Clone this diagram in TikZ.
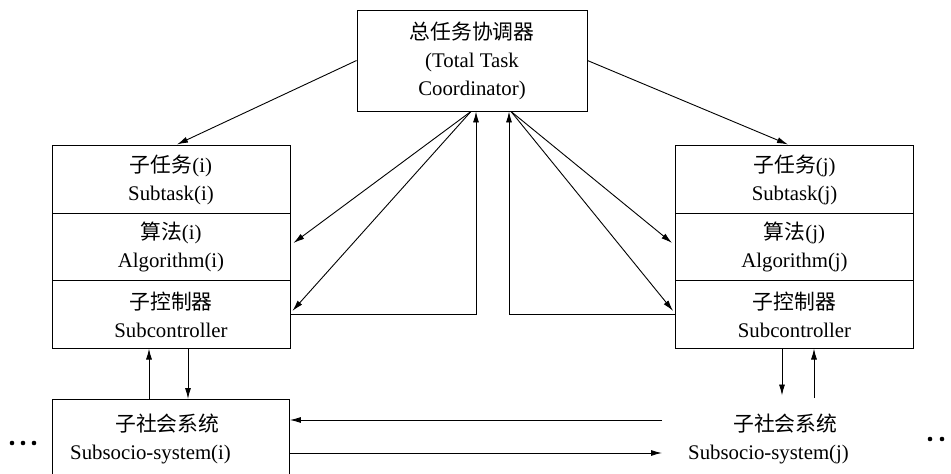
\documentclass[tikz,border=0pt]{standalone}
\usepackage{fontspec}
\setmainfont{Liberation Serif}
\newfontfamily\cjk{Noto Sans CJK SC}
\usetikzlibrary{arrows.meta,calc}
\begin{document}
\begin{tikzpicture}[x=1pt,y=-1pt,
  font=\fontsize{20.8}{28}\selectfont,
  box/.style={draw, line width=0.9pt, align=center, inner sep=0pt},
  cell/.style={box, minimum width=238pt, minimum height=67.4pt},
  link/.style={line width=0.9pt, -{Latex[length=11pt,width=6pt]}},
  plain/.style={line width=0.9pt},
  dotmark/.style={fill=black}]
\path[use as bounding box, clip] (0,0) rectangle (951,474);

% coordinator
\node[box, minimum width=230pt, minimum height=101pt] (tc) at (472,60.5)
  {{\cjk 总任务协调器}\\(Total Task\\Coordinator)};

% left stack
\node[cell] (sti) at (171,179.6) {{\cjk 子任务}(i)\\Subtask(i)};
\node[cell] (ali) at (171,247)   {{\cjk 算法}(i)\\Algorithm(i)};
\node[cell] (sci) at (171,314.4) {{\cjk 子控制器}\\Subcontroller};

% right stack
\node[cell] (stj) at (794.5,179.6) {{\cjk 子任务}(j)\\Subtask(j)};
\node[cell] (alj) at (794.5,247)   {{\cjk 算法}(j)\\Algorithm(j)};
\node[cell] (scj) at (794.5,314.4) {{\cjk 子控制器}\\Subcontroller};

% sub-socio-systems
\node[box, minimum width=237pt, minimum height=110pt, anchor=north west] (ssi) at (52,399) {};
\node[align=left, inner sep=0pt, anchor=west] (ssitxt) at (70,438.5)
  {\hspace*{45pt}{\cjk 子社会系统}\\Subsocio-system(i)};
\node[align=left, inner sep=0pt, anchor=west] (ssj) at (688,438.5)
  {\hspace*{45pt}{\cjk 子社会系统}\\Subsocio-system(j)};

% coordinator -> subtasks
\draw[link] (tc.west) -- ($(sti.north)+(6,-1)$);
\draw[link] (tc.east) -- ($(stj.north)+(-6.5,-1)$);

% coordinator -> algorithms / subcontrollers
\coordinate (oL) at ($(tc.south)+(-1,0)$);
\coordinate (oR) at ($(tc.south)+(39,0)$);
\draw[link] (oL) -- ($(ali.east)+(3,-4)$);
\draw[link] (oL) -- ($(sci.east)+(2,-3.5)$);
\draw[link] (oR) -- ($(alj.west)+(-3,-4)$);
\draw[link] (oR) -- ($(scj.west)+(-2,-3.5)$);

% feedback from subcontrollers
\draw[link] (sci.east) -| ($(tc.south)+(4,0)$);
\draw[link] (scj.west) -| ($(tc.south)+(37,0)$);

% subcontroller <-> subsystem (left)
\coordinate (upL) at ($(sci.south)+(-22,0)$);
\coordinate (dnL) at ($(sci.south)+(17,0)$);
\draw[link] (upL |- ssi.north) -- (upL);
\draw[link] (dnL) -- (dnL |- ssi.north);

% subcontroller <-> subsystem (right)
\coordinate (dnR) at ($(scj.south)+(-12.5,0)$);
\coordinate (upR) at ($(scj.south)+(19.5,0)$);
\coordinate (dnRend) at (782,395.5);
\coordinate (upRstart) at (814,398);
\draw[link] (dnR) -- (dnRend);
\draw[link] (upRstart) -- (upR);

% exchange between subsystems
\coordinate (hU) at (662,420);
\coordinate (hD) at (662,453);
\draw[link] (hU) -- (hU -| ssi.east);
\draw[link] (hD -| ssi.east) -- (hD);

% continuation dots
\foreach \x in {12,23,34} \fill[dotmark] (\x,443) circle (2.3);
\foreach \x in {930,942,954} \fill[dotmark] (\x,439) circle (2.3);
\end{tikzpicture}
\end{document}
